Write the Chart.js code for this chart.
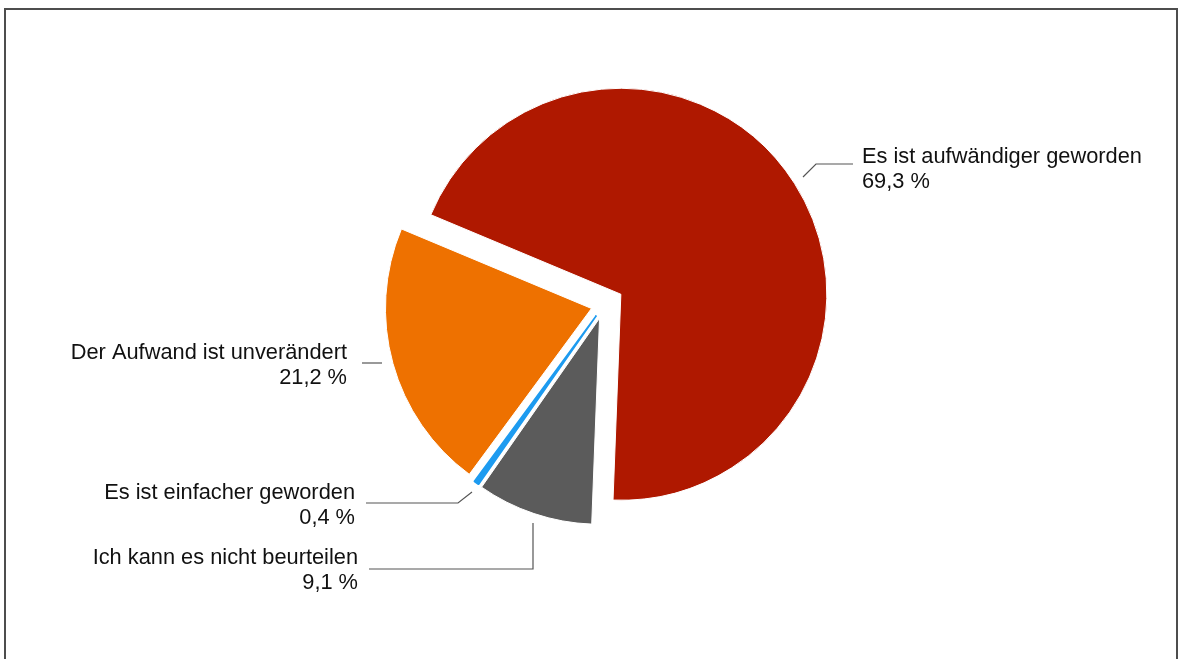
<!DOCTYPE html>
<html>
<head>
<meta charset="utf-8">
<script src="https://cdn.jsdelivr.net/npm/chart.js@4/dist/chart.umd.min.js"></script>
<style>
  html, body { margin: 0; padding: 0; background: #fff; overflow: hidden; }
  #wrap { position: relative; width: 1178px; height: 659px; }
  #frame { position: absolute; left: 4px; top: 8px; width: 1174px; height: 700px;
           border: 2px solid #4d4d4d; box-sizing: border-box; pointer-events: none; }
  canvas { position: absolute; left: 0; top: 0; }
</style>
</head>
<body>
<div id="wrap">
  <canvas id="c" width="1178" height="659"></canvas>
  <div id="frame"></div>
</div>
<script>
// ---- data ----
const categories = [
  "Es ist aufwändiger geworden",
  "Ich kann es nicht beurteilen",
  "Es ist einfacher geworden",
  "Der Aufwand ist unverändert"
];
const values = [69.3, 9.1, 0.4, 21.2];
const valueLabels = ["69,3 %", "9,1 %", "0,4 %", "21,2 %"];

// ---- styles ----
const colors = ["#AF1800", "#5B5B5B", "#1D9BF0", "#EE7100"];
const borderColors = ["#ffffff", "#ffffff", "#1D9BF0", "#ffffff"];
const borderWidths = [1, 1, 1.6, 1];
const explode = [20, 14, 13, 13];   // px, per slice, along mid-angle
// label placement relative to pie center: text anchor + leader polyline
const labelLayout = [
  { tx: 258, ty: -148, align: "left",  line: [[199,-128],[212,-141],[249,-141]] },
  { tx: -246, ty: 253, align: "right", line: [[-235,264],[-71,264],[-71,218]] },
  { tx: -249, ty: 188, align: "right", line: [[-238,198],[-146,198],[-132,187]] },
  { tx: -257, ty: 48,  align: "right", line: [[-242,58],[-222,58]] }
];

const explodePlugin = {
  id: "explodeSlices",
  afterDatasetsUpdate(chart) {
    const meta = chart.getDatasetMeta(0);
    meta.data.forEach((arc, i) => {
      const mid = (arc.startAngle + arc.endAngle) / 2;
      const d = explode[i] || 0;
      arc.x = arc.x + Math.cos(mid) * d;
      arc.y = arc.y + Math.sin(mid) * d;
    });
  }
};

const labelPlugin = {
  id: "sliceLabels",
  afterDraw(chart) {
    const ctx = chart.ctx;
    const a = chart.chartArea;
    const cx = (a.left + a.right) / 2;
    const cy = (a.top + a.bottom) / 2;
    ctx.save();
    ctx.strokeStyle = "#555";
    ctx.lineWidth = 1.2;
    ctx.fillStyle = "#111111";
    ctx.font = "21.8px 'Liberation Sans', Arial, sans-serif";
    ctx.textBaseline = "middle";
    labelLayout.forEach((L, i) => {
      ctx.beginPath();
      L.line.forEach((p, j) => {
        const x = cx + p[0], y = cy + p[1];
        if (j === 0) ctx.moveTo(x, y); else ctx.lineTo(x, y);
      });
      ctx.stroke();
      ctx.textAlign = L.align;
      ctx.fillText(categories[i], cx + L.tx, cy + L.ty);
      ctx.fillText(valueLabels[i], cx + L.tx, cy + L.ty + 25);
    });
    ctx.restore();
  }
};

new Chart(document.getElementById("c"), {
  type: "pie",
  data: {
    labels: categories,
    datasets: [{
      data: values,
      backgroundColor: colors,
      borderColor: borderColors,
      borderWidth: borderWidths
    }]
  },
  options: {
    responsive: false,
    animation: false,
    rotation: -67.3,
    radius: 206,
    layout: { padding: { left: 30, right: 0, top: 0, bottom: 49 } },
    plugins: {
      legend: { display: false },
      tooltip: { enabled: false }
    }
  },
  plugins: [explodePlugin, labelPlugin]
});
</script>
</body>
</html>
